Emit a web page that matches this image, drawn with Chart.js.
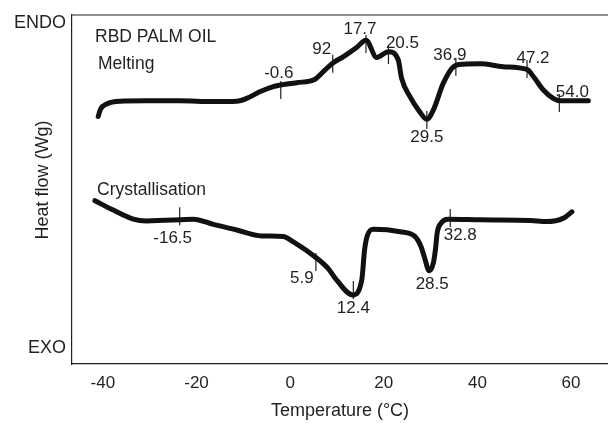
<!DOCTYPE html>
<html><head><meta charset="utf-8">
<script src="https://cdn.jsdelivr.net/npm/chart.js@4/dist/chart.umd.min.js"></script>
<style>html,body{margin:0;padding:0;background:#fff;overflow:hidden;}canvas{display:block;}</style>
</head><body><canvas id="c" width="608" height="423" style="width:608px;height:423px"></canvas>
<script>
// ---- data ----
const meltingTemp = [-41.0,-40.5,-39.2,-36.4,-30.7,-23.6,-16.4,-11.4,-9.3,-6.5,-3.6,-2.2,1.4,5.3,7.1,9.2,11.4,14.2,16.2,18.5,21.0,23.1,23.8,25.6,27.4,29.2,30.6,32.7,34.9,37.0,40.6,45.5,50.6,52.0,54.1,56.2,57.7,63.7];
const meltingHeat = [70.9,73.0,74.5,75.3,75.4,75.4,75.2,75.3,76.1,78.0,79.5,79.9,80.6,81.6,83.8,86.3,88.1,90.7,92.8,87.8,89.5,87.1,81.9,76.6,72.8,70.1,72.8,80.4,85.2,85.9,86.0,85.2,84.4,82.3,78.5,76.1,75.4,75.4];
const crystTemp = [-41.7,-37.8,-33.5,-30.7,-23.6,-20.7,-16.4,-11.4,-6.1,-1.5,0.7,5.7,8.1,9.9,13.4,15.3,15.9,16.5,17.8,23.5,26.7,28.0,28.7,29.7,30.6,31.1,31.4,32.2,33.8,40.6,51.3,54.8,58.4,60.2];
const crystHeat = [46.8,44.1,41.5,41.0,41.3,41.5,40.0,38.4,36.7,36.5,35.0,30.3,27.4,24.1,19.8,24.1,32.7,36.8,38.6,37.9,36.5,33.5,30.5,26.7,29.0,33.5,37.5,40.3,41.5,41.3,41.1,40.8,41.8,43.6];

const meltPeakTemp = [-2.0,9.1,16.2,21.0,29.2,35.4,50.6,57.5];
const meltPeakHeat = [78.5,86.0,91.7,88.5,69.9,85.2,84.5,74.8];
const meltPeakLabels = ['-0.6','92','17.7','20.5','29.5','36.9','47.2','54.0'];
const crystPeakTemp = [-23.6,5.5,13.5,29.7,34.2];
const crystPeakHeat = [42.3,29.2,21.2,26.7,41.8];
const crystPeakLabels = ['-16.5','5.9','12.4','28.5','32.8'];
const crystPeakHasTick = [true,true,true,false,true];

const xTicks = [-40,-20,0,20,40,60];
const yTickValues = [4.6, 97.8];
const yTickLabels = ['EXO','ENDO'];
const xTitle = 'Temperature (°C)';
const yTitle = 'Heat flow (Wg)';
const sampleTitle = 'RBD PALM OIL';
const meltName = 'Melting';
const crystName = 'Crystallisation';

// ---- layout / style ----
const FONT = "'Liberation Sans', Arial, sans-serif";
const INK = '#231f20';
const meltLabelOffsets = [[-2,-18],[-11,-16],[-6,-16],[14,-13],[0,16],[-6,-12.5],[6,-11.5],[13,-12]];
const crystLabelOffsets = [[-7,21],[-14,15],[0,17],[3,12],[10,16]];

const pts = (xs, ys) => xs.map((x, i) => ({x: x, y: ys[i]}));

const textPlugin = {
  id: 'texts',
  afterDraw(chart) {
    const ctx = chart.ctx, a = chart.chartArea;
    const xs = chart.scales.x, ys = chart.scales.y;
    ctx.save();
    // top frame line
    ctx.strokeStyle = INK; ctx.lineWidth = 1.2;
    ctx.beginPath(); ctx.moveTo(a.left, a.top); ctx.lineTo(a.right, a.top); ctx.stroke();
    ctx.fillStyle = INK;
    // peak labels
    ctx.font = '17px ' + FONT; ctx.textAlign = 'center'; ctx.textBaseline = 'middle';
    meltPeakLabels.forEach((t, i) => {
      const o = meltLabelOffsets[i];
      ctx.fillText(t, xs.getPixelForValue(meltPeakTemp[i]) + o[0], ys.getPixelForValue(meltPeakHeat[i]) + o[1] + 1);
    });
    crystPeakLabels.forEach((t, i) => {
      const o = crystLabelOffsets[i];
      ctx.fillText(t, xs.getPixelForValue(crystPeakTemp[i]) + o[0], ys.getPixelForValue(crystPeakHeat[i]) + o[1] + 1);
    });
    // curve names
    ctx.font = '17.5px ' + FONT; ctx.textAlign = 'left'; ctx.textBaseline = 'alphabetic';
    ctx.fillText(sampleTitle, 95, 41.5);
    ctx.fillText(meltName, 98, 69);
    ctx.fillText(crystName, 97, 194.5);
    // y title
    ctx.font = '18px ' + FONT; ctx.textAlign = 'center'; ctx.textBaseline = 'middle';
    ctx.translate(43, 180); ctx.rotate(-Math.PI / 2);
    ctx.fillText(yTitle, 0, 0);
    ctx.restore();
  }
};

new Chart(document.getElementById('c'), {
  type: 'line',
  data: {
    datasets: [
      {label: meltName, data: pts(meltingTemp, meltingHeat), borderColor: '#111', borderWidth: 5,
       pointRadius: 0, cubicInterpolationMode: 'monotone', borderCapStyle: 'round', borderJoinStyle: 'round', fill: false},
      {label: crystName, data: pts(crystTemp, crystHeat), borderColor: '#111', borderWidth: 5,
       pointRadius: 0, cubicInterpolationMode: 'monotone', borderCapStyle: 'round', borderJoinStyle: 'round', fill: false},
      {label: 'melt peaks', data: pts(meltPeakTemp, meltPeakHeat), showLine: false,
       pointStyle: 'line', pointRotation: 90, pointRadius: 9, pointBorderWidth: 1.2, pointBorderColor: INK, pointBackgroundColor: INK},
      {label: 'cryst peaks', data: pts(crystPeakTemp, crystPeakHeat), showLine: false,
       pointStyle: 'line', pointRotation: 90, pointRadius: c => crystPeakHasTick[c.dataIndex] ? 9 : 0,
       pointBorderWidth: 1.2, pointBorderColor: INK, pointBackgroundColor: INK}
    ]
  },
  options: {
    responsive: false, maintainAspectRatio: false, devicePixelRatio: 1, animation: false,
    events: [],
    layout: {autoPadding: false, padding: {top: 15, left: 0, right: 0, bottom: 0}},
    plugins: {legend: {display: false}, tooltip: {enabled: false}},
    scales: {
      x: {
        type: 'linear', min: -46.6, max: 67.9,
        afterBuildTicks: s => { s.ticks = xTicks.map(v => ({value: v})); },
        afterFit: s => { s.height = 59; s.paddingLeft = 0; s.paddingRight = 0; },
        grid: {display: false, drawTicks: false},
        border: {display: true, color: INK, width: 1.2},
        ticks: {padding: 9, color: INK, font: {family: FONT, size: 17}, callback: v => String(v), maxRotation: 0},
        title: {display: true, text: xTitle, color: INK, font: {family: FONT, size: 18}, padding: {top: 0, bottom: 1}}
      },
      y: {
        type: 'linear', min: 0, max: 100,
        afterBuildTicks: s => { s.ticks = yTickValues.map(v => ({value: v})); },
        afterFit: s => { s.width = 72; s.paddingTop = 0; s.paddingBottom = 0; },
        grid: {display: false, drawTicks: false},
        border: {display: true, color: INK, width: 1.2},
        ticks: {padding: 6, color: INK, font: {family: FONT, size: 18}, callback: (v, i) => yTickLabels[i]}
      }
    }
  },
  plugins: [textPlugin]
});
</script>
</body></html>
